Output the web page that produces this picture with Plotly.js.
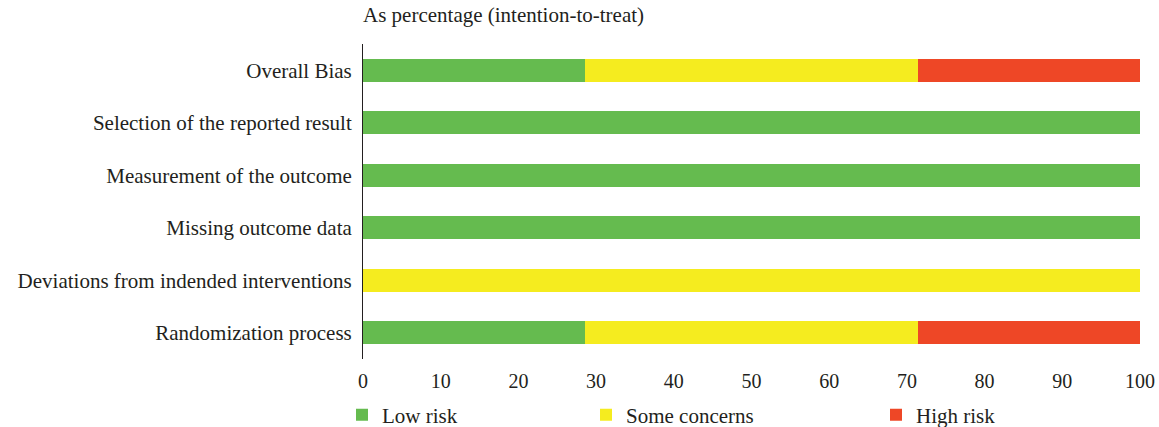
<!DOCTYPE html>
<html>
<head>
<meta charset="utf-8">
<script src="https://cdn.plot.ly/plotly-3.0.1.min.js"></script>
<style>html,body{margin:0;padding:0;background:#fff;}#chart{width:1159px;height:427px;}</style>
</head>
<body>
<div id="chart"></div>
<script>
var categories = ["Overall Bias", "Selection of the reported result", "Measurement of the outcome", "Missing outcome data", "Deviations from indended interventions", "Randomization process"];
var lowRisk = [28.57, 100, 100, 100, 0, 28.57];
var someConcerns = [42.86, 0, 0, 0, 100, 42.86];
var highRisk = [28.57, 0, 0, 0, 0, 28.57];
var seriesNames = ["Low risk", "Some concerns", "High risk"];
var xTicks = [0, 10, 20, 30, 40, 50, 60, 70, 80, 90, 100];

var colors = ["#65BB4F", "#F5EC1F", "#EE4726"];
var fontFam = "Liberation Serif, Times New Roman, serif";
var txtColor = "#231F20";
var fs = 21;

var series = [lowRisk, someConcerns, highRisk];
var legendIds = ["legend", "legend2", "legend3"];
var traces = series.map(function (vals, i) {
  return {
    type: "bar",
    orientation: "h",
    x: vals,
    y: categories,
    name: seriesNames[i],
    marker: {color: colors[i], line: {width: 0}},
    legend: legendIds[i],
    hoverinfo: "x+y+name"
  };
});

function legendAt(xpx) {
  return {
    orientation: "h",
    x: xpx / 1159,
    xref: "container",
    xanchor: "left",
    y: (427 - 415) / 427,
    yref: "container",
    yanchor: "middle",
    font: {family: fontFam, size: fs, color: txtColor},
    bgcolor: "rgba(0,0,0,0)",
    borderwidth: 0
  };
}

var layout = {
  width: 1159,
  height: 427,
  margin: {l: 363, r: 19, t: 44, b: 68, autoexpand: false},
  barmode: "stack",
  bargap: 0.56,
  paper_bgcolor: "#fff",
  plot_bgcolor: "#fff",
  font: {family: fontFam, size: fs, color: txtColor},
  title: {
    text: "As percentage (intention-to-treat)",
    x: 363 / 1159, xref: "container", xanchor: "left",
    y: (427 - 15) / 427, yref: "container", yanchor: "middle",
    font: {family: fontFam, size: fs, color: txtColor}
  },
  xaxis: {
    range: [0, 100],
    tickvals: xTicks,
    ticktext: xTicks.map(String),
    showgrid: false,
    zeroline: false,
    showline: false,
    ticks: "",
    ticklabelstandoff: 8,
    tickfont: {family: fontFam, size: 20, color: txtColor},
    fixedrange: true
  },
  yaxis: {
    categoryorder: "array",
    categoryarray: categories,
    autorange: "reversed",
    showgrid: false,
    zeroline: false,
    showline: true,
    linecolor: "#231F20",
    linewidth: 1,
    ticks: "",
    ticklabelstandoff: 6,
    tickfont: {family: fontFam, size: fs, color: txtColor},
    fixedrange: true
  },
  legend: legendAt(342),
  legend2: legendAt(586),
  legend3: legendAt(876),
  showlegend: true
};

Plotly.newPlot("chart", traces, layout, {displayModeBar: false, staticPlot: true});
</script>
</body>
</html>
